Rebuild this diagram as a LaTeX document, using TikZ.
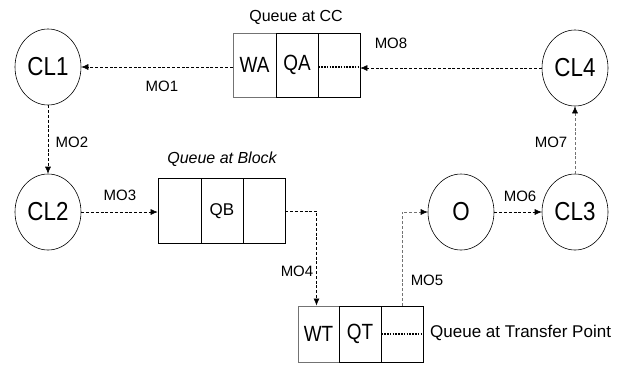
\documentclass[tikz,border=0pt]{standalone}
\usepackage{fontspec}
\setmainfont{Liberation Sans}
\newfontfamily\condfont[FakeStretch=0.86]{Liberation Sans}
\usetikzlibrary{shapes.geometric,arrows.meta,calc}
\tikzset{
  station/.style={draw=black,line width=0.6pt,ellipse,minimum width=66pt,minimum height=76pt,inner sep=0pt,
     font=\condfont\fontsize{26}{26}\selectfont},
  cell/.style={draw=black,line width=0.7pt,rectangle,inner sep=0pt,minimum width=42pt},
  wcell/.style={cell,draw=black!55,line width=1pt},
  big/.style={font=\condfont\fontsize{22}{22}\selectfont},
  lbl/.style={font=\fontsize{15}{15}\selectfont,inner sep=0pt},
  ttl/.style={font=\fontsize{16}{16}\selectfont,inner sep=0pt},
  flow/.style={draw=black,line width=0.6pt,dash pattern=on 3pt off 1.8pt,-{Latex[length=7pt,width=6pt]}},
  gflow/.style={flow,draw=black!55,-{Latex[length=7pt,width=6pt,fill=black,color=black]}},
  dots/.style={draw=black,line width=1.4pt,dash pattern=on 1.6pt off 1.2pt}
}
\begin{document}
\begin{tikzpicture}[x=1pt,y=-1pt]
\useasboundingbox (0,0) rectangle (618,368);
% stations
\node[station] (cl1) at (48,67) {CL1};
\node[station] (cl2) at (48,212) {CL2};
\node[station] (o) at (461,212) {O};
\node[station] (cl3) at (575,212) {CL3};
\node[station] (cl4) at (575,68) {CL4};
% queue at CC
\node[wcell,minimum width=43pt,minimum height=64pt] (wa) at (254.5,65) {};
\node[cell,minimum width=42pt,minimum height=64pt] (qa) at (297,65) {};
\node[cell,minimum width=42pt,minimum height=64pt] (ca3) at (339,65) {};
\node[big] at (wa) {WA};
\node[big] at (qa) {QA};
\node[ttl] (tcc) at (296,17) {Queue at CC};
% queue at block
\node[cell,minimum width=43pt,minimum height=65pt] (b1) at (179.5,211) {};
\node[cell,minimum width=42pt,minimum height=65pt] (b2) at (222,211) {};
\node[cell,minimum width=42pt,minimum height=65pt] (b3) at (264,211) {};
\node[font=\fontsize{17}{17}\selectfont] at (b2) {QB};
\node[ttl,font=\itshape\fontsize{16}{16}\selectfont] (tb) at (222,159) {Queue at Block};
% queue at transfer point
\node[wcell,minimum width=41pt,minimum height=56pt] (wt) at (318.5,334) {};
\node[cell,minimum width=42pt,minimum height=56pt] (qt) at (360,334) {};
\node[cell,minimum width=42pt,minimum height=56pt] (t3) at (402,334) {};
\node[big] at (wt) {WT};
\node[big] at (qt) {QT};
\node[ttl,anchor=west,font=\fontsize{17}{17}\selectfont] (ttp) at (430,333) {Queue at Transfer Point};
% dotted inner lines
\draw[dots] (qa.east |- cl1) -- (ca3.east |- cl1);
\draw[dots] (qt.east) -- (t3.east);
% connectors
\draw[flow] (cl4) -- (ca3.east |- cl4);
\draw[flow] (wa.west |- cl1) -- (cl1);
\draw[flow] (cl1) -- (cl2);
\draw[flow] (cl2) -- (b1.west |- cl2);
\draw[flow] (b3.east) -| ($(wt.north)+(-2,0)$);
\draw[gflow] (t3.north) |- (o.west);
\draw[flow] (o) -- (cl3);
\draw[gflow] (cl3) -- (cl4);
% labels
\node[lbl] (m1) at (162,86) {MO1};
\node[lbl] (m2) at (72,142) {MO2};
\node[lbl] (m3) at (120,195) {MO3};
\node[lbl] (m4) at (297,271) {MO4};
\node[lbl] (m5) at (427,280) {MO5};
\node[lbl] (m6) at (520,196) {MO6};
\node[lbl] (m7) at (551,142) {MO7};
\node[lbl] (m8) at (391,43) {MO8};
\end{tikzpicture}
\end{document}
